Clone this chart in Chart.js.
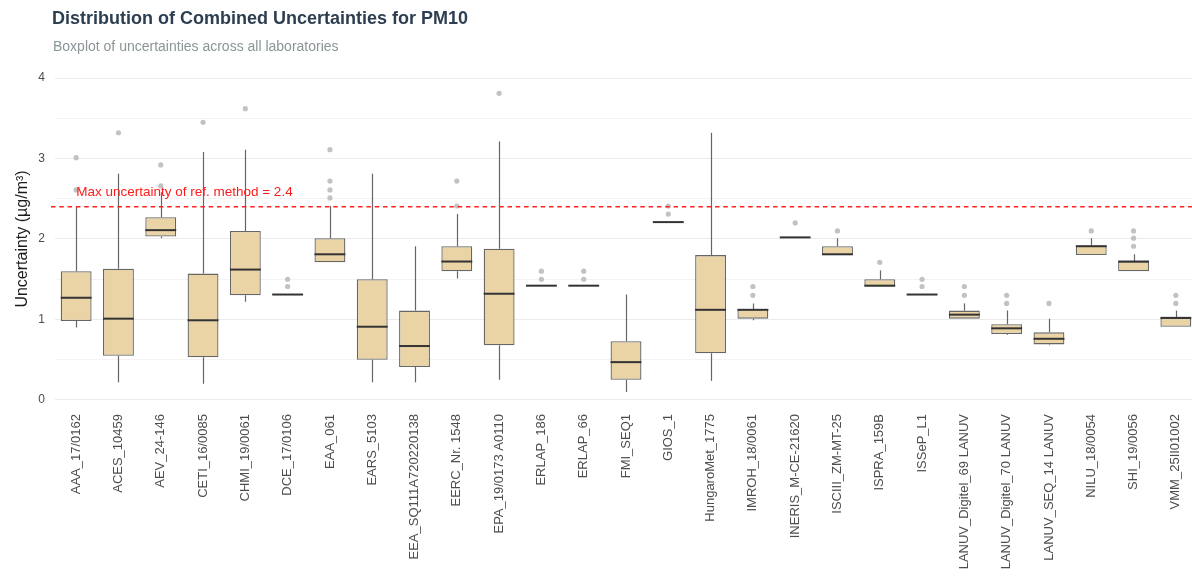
<!DOCTYPE html>
<html>
<head>
<meta charset="utf-8">
<script src="https://cdn.jsdelivr.net/npm/chart.js@4.4.1/dist/chart.umd.min.js"></script>
<style>
  html, body { margin: 0; padding: 0; background: #fff; overflow: hidden; }
  #wrap { position: relative; width: 1200px; height: 576px; }
</style>
</head>
<body>
<div id="wrap"><canvas id="boxChart" width="1200" height="576"></canvas></div>
<script>
// laboratories on the x axis
const labs = [
    'AAA_17/0162', 'ACES_10459', 'AEV_24-146', 'CETI_16/0085', 'CHMI_19/0061', 'DCE_17/0106',
    'EAA_061', 'EARS_5103', 'EEA_SQ111A720220138', 'EERC_Nr. 1548', 'EPA_19/0173 A0110',
    'ERLAP_186', 'ERLAP_66', 'FMI_SEQ1', 'GIOS_1', 'HungaroMet_1775', 'IMROH_18/0061',
    'INERIS_M-CE-21620', 'ISCIII_ZM-MT-25', 'ISPRA_159B', 'ISSeP_L1', 'LANUV_Digitel_69 LANUV',
    'LANUV_Digitel_70 LANUV', 'LANUV_SEQ_14 LANUV', 'NILU_18/0054', 'SHI_19/0056', 'VMM_25II01002'
];

// box statistics per lab (ug/m3)
const whiskerLow  = [0.90, 0.22, 2.01, 0.20, 1.22, 1.31, 1.71, 0.22, 0.22, 1.51, 0.25, 1.42, 1.42, 0.10, 2.21, 0.24, 0.99, 2.02, 1.80, 1.41, 1.31, 1.01, 0.81, 0.68, 1.80, 1.60, 0.91];
const q1          = [0.98, 0.55, 2.03, 0.53, 1.30, 1.31, 1.71, 0.50, 0.41, 1.60, 0.68, 1.42, 1.42, 0.25, 2.21, 0.58, 1.01, 2.02, 1.80, 1.41, 1.31, 1.01, 0.82, 0.69, 1.80, 1.60, 0.91];
const median      = [1.27, 1.01, 2.11, 0.99, 1.62, 1.31, 1.81, 0.91, 0.67, 1.72, 1.32, 1.42, 1.42, 0.47, 2.21, 1.12, 1.12, 2.02, 1.81, 1.42, 1.31, 1.06, 0.89, 0.76, 1.91, 1.72, 1.02];
const q3          = [1.60, 1.63, 2.27, 1.57, 2.10, 1.31, 2.01, 1.50, 1.11, 1.91, 1.88, 1.42, 1.42, 0.73, 2.21, 1.80, 1.13, 2.02, 1.91, 1.50, 1.31, 1.11, 0.94, 0.84, 1.92, 1.72, 1.02];
const whiskerHigh = [2.41, 2.81, 2.58, 3.08, 3.11, 1.31, 2.41, 2.81, 1.91, 2.31, 3.21, 1.42, 1.42, 1.31, 2.21, 3.32, 1.20, 2.02, 2.01, 1.61, 1.31, 1.20, 1.11, 1.01, 2.01, 1.81, 1.11];
const outliers = [
    [3.01, 2.61], [3.32], [2.92, 2.66], [3.45], [3.62], [1.50, 1.41],
    [3.11, 2.72, 2.61, 2.51], [], [], [2.72, 2.41], [3.81],
    [1.60, 1.50], [1.60, 1.50], [], [2.41, 2.31], [], [1.41, 1.30],
    [2.20], [2.10], [1.71], [1.50, 1.41], [1.41, 1.30],
    [1.30, 1.20], [1.20], [2.10], [2.10, 2.01, 1.91], [1.30, 1.20]
];

const refLimit = 2.4;
const refText = 'Max uncertainty of ref. method = 2.4';

const FONT = "'Liberation Sans', Arial, sans-serif";

const outlierPoints = [];
outliers.forEach((vals, i) => vals.forEach(v => outlierPoints.push({ x: labs[i], y: v })));

// whiskers under the boxes, medians + reference line on top
const boxPlugin = {
    id: 'boxExtras',
    beforeDatasetsDraw(chart) {
        const ctx = chart.ctx;
        const x = chart.scales.x, y = chart.scales.y;
        ctx.save();
        ctx.strokeStyle = '#666666';
        ctx.lineWidth = 1.2;
        labs.forEach((lab, i) => {
            const px = Math.round(x.getPixelForValue(i)) + 0.5;
            ctx.beginPath();
            ctx.moveTo(px, y.getPixelForValue(whiskerHigh[i]));
            ctx.lineTo(px, y.getPixelForValue(q3[i]));
            ctx.moveTo(px, y.getPixelForValue(q1[i]));
            ctx.lineTo(px, y.getPixelForValue(whiskerLow[i]));
            ctx.stroke();
        });
        ctx.restore();
    },
    afterDatasetsDraw(chart) {
        const ctx = chart.ctx;
        const x = chart.scales.x, y = chart.scales.y;
        const bars = chart.getDatasetMeta(0).data;
        ctx.save();
        ctx.strokeStyle = '#333333';
        ctx.lineWidth = 2;
        bars.forEach((bar, i) => {
            const py = y.getPixelForValue(median[i]);
            ctx.beginPath();
            ctx.moveTo(bar.x - bar.width / 2, py);
            ctx.lineTo(bar.x + bar.width / 2, py);
            ctx.stroke();
        });

        // reference line
        const ry = y.getPixelForValue(refLimit);
        ctx.strokeStyle = '#ff2020';
        ctx.lineWidth = 1.6;
        ctx.setLineDash([4.5, 3.8]);
        ctx.beginPath();
        ctx.moveTo(chart.chartArea.left - 4, ry);
        ctx.lineTo(chart.chartArea.right, ry);
        ctx.stroke();
        ctx.setLineDash([]);
        ctx.fillStyle = '#ff1a1a';
        ctx.font = '13.5px ' + FONT;
        ctx.textBaseline = 'middle';
        ctx.textAlign = 'left';
        ctx.fillText(refText, x.getPixelForValue(0), y.getPixelForValue(2.585));

        // titles
        ctx.fillStyle = '#2c3e50';
        ctx.font = 'bold 18px ' + FONT;
        ctx.fillText('Distribution of Combined Uncertainties for PM10', 52, 19);
        ctx.fillStyle = '#8a9597';
        ctx.font = '14px ' + FONT;
        ctx.fillText('Boxplot of uncertainties across all laboratories', 53, 47);
        ctx.restore();
    }
};

new Chart(document.getElementById('boxChart'), {
    type: 'bar',
    data: {
        labels: labs,
        datasets: [
            {
                data: q1.map((v, i) => [v, q3[i]]),
                backgroundColor: '#ead4a6',
                borderColor: '#666666',
                borderWidth: 1.3,
                borderSkipped: false,
                categoryPercentage: 1,
                barPercentage: 0.73,
                order: 2
            },
            {
                type: 'line',
                data: outlierPoints,
                showLine: false,
                pointRadius: 2.6,
                pointBackgroundColor: '#c2c2c2',
                pointBorderWidth: 0,
                pointHoverRadius: 2.6,
                order: 1
            }
        ]
    },
    plugins: [boxPlugin],
    options: {
        responsive: false,
        animation: false,
        layout: { padding: { top: 70, right: 3, bottom: 0, left: 0 } },
        plugins: { legend: { display: false }, tooltip: { enabled: false } },
        scales: {
            x: {
                offset: true,
                grid: { display: false, drawTicks: false },
                border: { display: false },
                ticks: {
                    minRotation: 90, maxRotation: 90, autoSkip: false, padding: 6,
                    color: '#4d4d4d', font: { family: FONT, size: 13 }
                },
                afterFit: s => { s.height = 168; }
            },
            y: {
                min: -0.1,
                max: 4.1,
                grid: {
                    drawTicks: false,
                    color: c => (Math.abs(c.tick.value % 1) < 1e-6 ? '#ebebeb' : '#f3f3f3'),
                    lineWidth: 1
                },
                border: { display: false },
                afterBuildTicks: s => {
                    s.ticks = [0, 0.5, 1, 1.5, 2, 2.5, 3, 3.5, 4].map(v => ({ value: v }));
                },
                ticks: {
                    padding: 10,
                    color: '#4d4d4d',
                    font: { family: FONT, size: 12 },
                    callback: v => (Number.isInteger(v) ? v : '')
                },
                title: {
                    display: true,
                    text: 'Uncertainty (µg/m³)',
                    color: '#1a1a1a',
                    font: { family: FONT, size: 16 },
                    padding: { top: 13, bottom: 0 }
                },
                afterFit: s => { s.width = 55; }
            }
        }
    }
});
</script>
</body>
</html>
